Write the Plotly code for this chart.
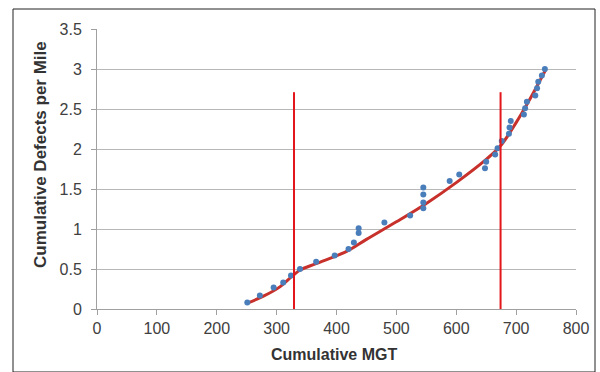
import plotly.graph_objects as go

# Observed data points (Cumulative MGT, Cumulative Defects per Mile)
mgt = [251, 272, 295, 311, 324, 339, 366, 397, 420, 429, 437, 437, 480, 523,
       545, 545, 545, 545, 589, 605, 648, 650, 665, 669, 676, 688, 689, 691,
       713, 715, 718, 732, 735, 737, 743, 748]
defects = [0.08, 0.17, 0.27, 0.33, 0.42, 0.50, 0.59, 0.67, 0.75, 0.83, 0.95, 1.01,
           1.08, 1.17, 1.26, 1.33, 1.43, 1.52, 1.60, 1.68, 1.76, 1.84, 1.93, 2.01,
           2.10, 2.19, 2.27, 2.35, 2.43, 2.51, 2.59, 2.67, 2.76, 2.84, 2.92, 3.00]

# Fitted curve
fit_x = [250, 278, 306, 326, 340, 367, 417, 450, 500, 550, 600, 650, 674, 700, 725, 750]
fit_y = [0.07, 0.16, 0.28, 0.41, 0.49, 0.57, 0.72, 0.87, 1.09, 1.32, 1.58, 1.87, 2.04, 2.33, 2.65, 3.00]

# Breakpoint markers
break_x = [329, 674]
break_top = 2.71

x_ticks = [0, 100, 200, 300, 400, 500, 600, 700, 800]
y_ticks = [0, 0.5, 1, 1.5, 2, 2.5, 3, 3.5]

x_title = "Cumulative MGT"
y_title = "Cumulative Defects per Mile"

fig = go.Figure()

fig.add_trace(go.Scatter(x=fit_x, y=fit_y, mode="lines",
                         line=dict(color="#C8312B", width=3, shape="spline"),
                         hoverinfo="skip"))
fig.add_trace(go.Scatter(x=mgt, y=defects, mode="markers",
                         marker=dict(color="#4A7EBB", size=6)))
for bx in break_x:
    fig.add_trace(go.Scatter(x=[bx, bx], y=[0, break_top], mode="lines",
                             line=dict(color="#E3161C", width=2)))

axis_font = dict(family="Liberation Sans, Arial, sans-serif", size=16, color="#404040")
ytitle_font = dict(family="Liberation Sans, Arial, sans-serif", size=17, color="#333333")
xtitle_font = dict(family="Liberation Sans, Arial, sans-serif", size=16, color="#333333")

PW, PH = 479, 280  # plot area size in px

fig.update_layout(
    width=600, height=372,
    margin=dict(l=97, r=24, t=29, b=63),
    paper_bgcolor="white", plot_bgcolor="white",
    showlegend=False,
    xaxis=dict(range=[0, 800], tickvals=x_ticks, ticks="outside", ticklen=5,
               tickcolor="#A0A0A0", showline=True, linecolor="#A0A0A0", linewidth=1,
               showgrid=False, zeroline=False, tickfont=axis_font),
    yaxis=dict(range=[0, 3.5], tickvals=y_ticks, ticks="outside", ticklen=5,
               tickcolor="#A0A0A0", showline=True, linecolor="#A0A0A0", linewidth=1,
               showgrid=True, gridcolor="#B8B8B8", gridwidth=1, zeroline=False,
               tickfont=axis_font, ticklabelstandoff=6),
    annotations=[
        dict(text="<b>" + x_title + "</b>", xref="paper", yref="paper",
             x=(334 - 97) / PW, y=-(354 - 309) / PH, showarrow=False,
             xanchor="center", yanchor="middle", font=xtitle_font),
        dict(text="<b>" + y_title + "</b>", xref="paper", yref="paper",
             x=(40 - 97) / PW, y=(309 - 155) / PH, showarrow=False, textangle=-90,
             xanchor="center", yanchor="middle", font=ytitle_font),
    ],
    shapes=[dict(type="rect", xref="paper", yref="paper",
                 x0=-84 / PW, x1=1 + 19 / PW, y0=-63 / PH, y1=1 + 20 / PH,
                 line=dict(color="#222222", width=1), layer="below")],
)

fig.write_html("out.html")
